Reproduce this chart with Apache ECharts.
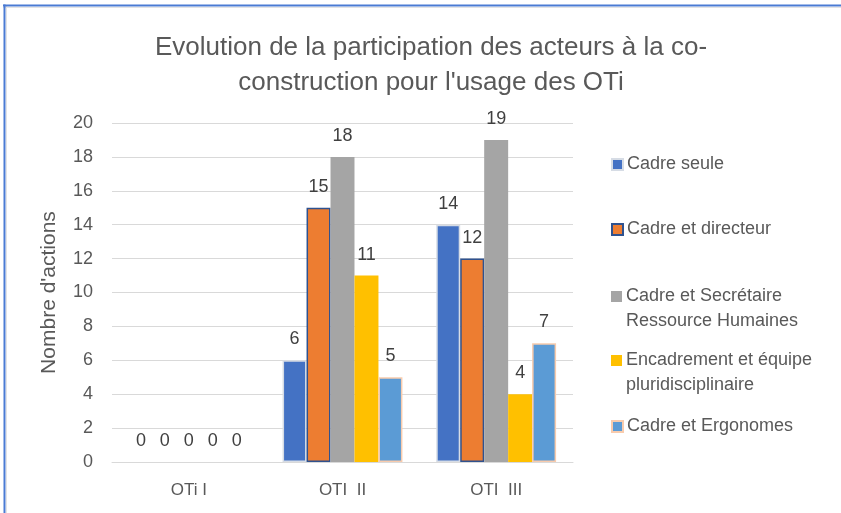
<!DOCTYPE html>
<html>
<head>
<meta charset="utf-8">
<script src="https://cdn.jsdelivr.net/npm/echarts@6/dist/echarts.min.js"></script>
<style>
  html, body { margin: 0; padding: 0; background: #ffffff; }
  #chart { width: 841px; height: 513px; }
</style>
</head>
<body>
<div id="chart"></div>
<script>
// Categories and values per group of actors
const categories = ['OTi I', 'OTI  II', 'OTI  III'];
const cadreSeule = [0, 6, 14];
const cadreDirecteur = [0, 15, 12];
const cadreSecretaire = [0, 18, 19];
const encadrementEquipe = [0, 11, 4];
const cadreErgonomes = [0, 5, 7];
const seriesNames = [
  'Cadre seule',
  'Cadre et directeur',
  'Cadre et Secrétaire Ressource Humaines',
  'Encadrement et équipe pluridisciplinaire',
  'Cadre et Ergonomes'
];
const yTicks = { min: 0, max: 20, interval: 2 };

const FONT = 'Liberation Sans';
const colors = ['#4472C4', '#ED7D31', '#A5A5A5', '#FFC000', '#5B9BD5'];
const borders = [
  { c: '#D6DCE5', w: 1.5 },
  { c: '#2F528F', w: 1.5 },
  { c: '#A5A5A5', w: 0 },
  { c: '#FFC000', w: 0 },
  { c: '#F8CBAD', w: 1.5 }
];
const values = [cadreSeule, cadreDirecteur, cadreSecretaire, encadrementEquipe, cadreErgonomes];

const series = values.map((vals, i) => ({
  name: seriesNames[i],
  type: 'bar',
  // zero-height bars get no outline so nothing shows on the axis
  data: vals.map(v => (v === 0 ? { value: v, itemStyle: { borderWidth: 0 } } : v)),
  barGap: '0%',
  barCategoryGap: '22%',
  itemStyle: {
    color: colors[i],
    borderColor: borders[i].c,
    borderWidth: borders[i].w
  },
  label: {
    show: true,
    position: 'top',
    distance: 12,
    color: '#404040',
    fontFamily: FONT,
    fontSize: 18
  }
}));

// One legend block per series, stacked on the right.
// Two-line entries get a blank first line so the marker sits beside the first text line.
const legendTops = [147, 212, 254, 318, 409];
const legendLabels = [
  'Cadre seule',
  'Cadre et directeur',
  '\u00a0\nCadre et Secrétaire\nRessource Humaines',
  '\u00a0\nEncadrement et équipe\npluridisciplinaire',
  'Cadre et Ergonomes'
];
const legends = seriesNames.map((name, i) => ({
  data: [{ name: name, icon: 'rect' }],
  left: 606,
  top: legendTops[i],
  orient: 'vertical',
  itemWidth: 11,
  itemHeight: 11,
  itemGap: 0,
  selectedMode: false,
  formatter: () => legendLabels[i],
  textStyle: {
    color: '#595959',
    fontFamily: FONT,
    fontSize: 18,
    lineHeight: 25,
    padding: [0, 0, 0, -1]
  }
}));

const chart = echarts.init(document.getElementById('chart'), null, { renderer: 'canvas' });
chart.setOption({
  animation: false,
  backgroundColor: '#ffffff',
  title: {
    text: 'Evolution de la participation des acteurs à la co-\nconstruction pour l\'usage des OTi',
    left: 426,
    top: 25,
    textAlign: 'center',
    textStyle: {
      color: '#595959',
      fontFamily: FONT,
      fontSize: 26,
      fontWeight: 'normal',
      lineHeight: 35
    }
  },
  legend: legends,
  grid: { left: 112, right: 268, top: 123, bottom: 51 },
  xAxis: {
    type: 'category',
    data: categories,
    axisTick: { show: false },
    axisLine: { lineStyle: { color: '#D9D9D9', width: 1 } },
    axisLabel: { color: '#595959', fontFamily: FONT, fontSize: 17, margin: 20 }
  },
  yAxis: {
    type: 'value',
    min: yTicks.min,
    max: yTicks.max,
    interval: yTicks.interval,
    name: "Nombre d'actions",
    nameLocation: 'middle',
    nameGap: 52,
    nameTextStyle: { color: '#595959', fontFamily: FONT, fontSize: 21 },
    axisLine: { show: false },
    axisTick: { show: false },
    axisLabel: { color: '#595959', fontFamily: FONT, fontSize: 18, margin: 19 },
    splitLine: { lineStyle: { color: '#D9D9D9', width: 1 } }
  },
  graphic: [
    { type: 'line', shape: { x1: 3, y1: 7.5, x2: 841, y2: 7.5 }, style: { stroke: '#E3E3E3', lineWidth: 1 }, silent: true },
    { type: 'line', shape: { x1: 6.5, y1: 6, x2: 6.5, y2: 513 }, style: { stroke: '#E3E3E3', lineWidth: 1 }, silent: true },
    { type: 'line', shape: { x1: 3, y1: 5.5, x2: 841, y2: 5.5 }, style: { stroke: '#4A7BD3', lineWidth: 2 }, silent: true },
    { type: 'line', shape: { x1: 4.5, y1: 4.5, x2: 4.5, y2: 513 }, style: { stroke: '#4A7BD3', lineWidth: 2 }, silent: true }
  ],
  series: series
});
</script>
</body>
</html>
